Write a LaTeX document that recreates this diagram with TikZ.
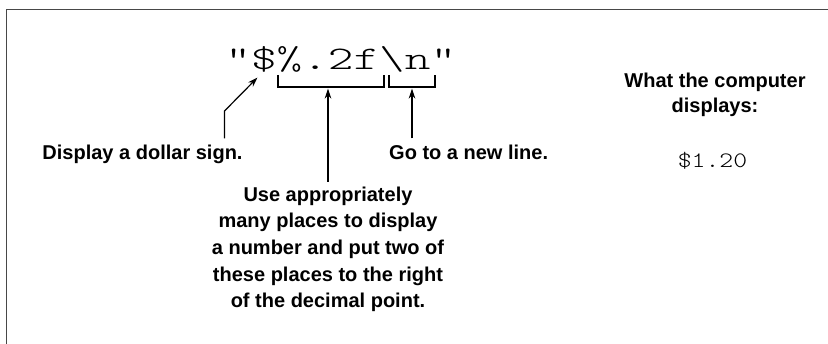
\documentclass[tikz,border=0pt]{standalone}
\usepackage{fontspec}
\usepackage{graphicx}
\setmainfont{Liberation Sans}
\newfontfamily\codefont{Latin Modern Mono Light}
\usetikzlibrary{arrows.meta}
\tikzset{
  lbl/.style={font=\fontsize{20}{26.7}\selectfont\bfseries, inner xsep=0pt, inner ysep=7pt, align=center},
  arr/.style={line width=1.2pt, -{Stealth[length=10pt,width=6.5pt]}},
  brk/.style={line width=1.2pt},
  frame/.style={line width=1.6pt, draw=black!72}
}
\begin{document}
\begin{tikzpicture}[x=1pt,y=-1pt]
\useasboundingbox (0,0) rectangle (828,344);
\draw[frame] (828,9.5) -- (6.5,9.5) -- (6.5,344);

\node[anchor=base west, inner sep=0pt] (code) at (225.2,70)
  {\scalebox{1.48}[1]{\fontsize{33}{33}\codefont "\$\%.2f\textbackslash n"}};

% brackets
\coordinate (b1l) at (278,75);
\coordinate (b1r) at (384,75);
\coordinate (b2l) at (389,75);
\coordinate (b2r) at (435,75);
\draw[brk] (b1l) -- ++(0,12) -| (b1r);
\draw[brk] (b2l) -- ++(0,12) -| (b2r);
\coordinate (t1) at (328,88.5);
\coordinate (t2) at (412,88.5);
\coordinate (dtip) at (257.5,77.5);
\coordinate (kink) at (224.5,111);

\node[lbl, anchor=base] (dollar) at (142.5,160) {Display a dollar sign.};
\node[lbl, anchor=base west] (newline) at (389,160) {Go to a new line.};
\node[lbl, anchor=base, inner ysep=5pt] (places) at (328,308)
  {Use appropriately\\many places to display\\a number and put two of\\these places to the right\\of the decimal point.};

\node[lbl, anchor=base, font=\fontsize{20}{25}\selectfont\bfseries] (what) at (715,113)
  {What the computer\\displays:};
\node[anchor=base, inner sep=0pt] (out) at (712.5,168)
  {\scalebox{1.2}[1]{\fontsize{22}{22}\codefont \$1.20}};

\draw[arr] (dollar.north -| kink) -- (kink) -- (dtip);
\draw[arr] (places.north) -- (t1);
\draw[arr] (newline.north -| t2) -- (t2);
\end{tikzpicture}
\end{document}
